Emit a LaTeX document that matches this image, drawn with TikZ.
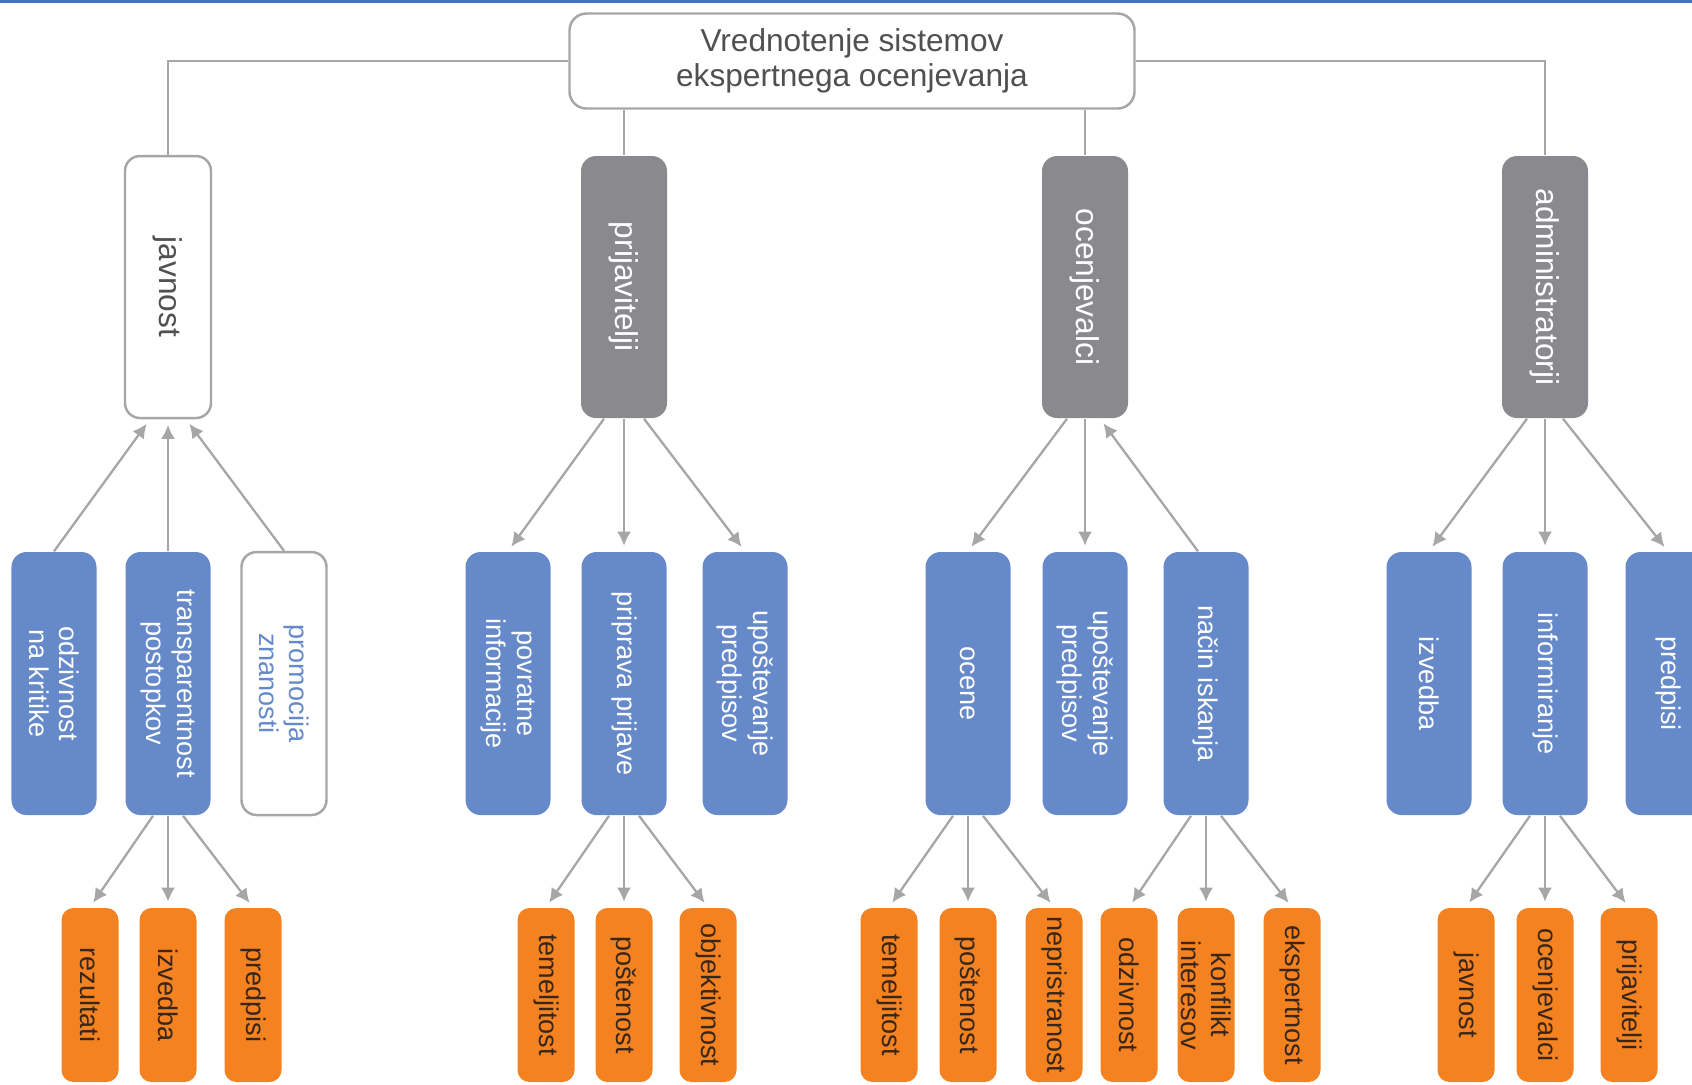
\documentclass[tikz,border=0pt]{standalone}
\usepackage{fontspec}
\setmainfont{Liberation Sans}
\usepackage{tikz}
\usetikzlibrary{
  arrows.meta,
  calc
}
\definecolor{grpgray}{RGB}{138,138,142}
\definecolor{subblue}{RGB}{101,137,201}
\definecolor{leaforange}{RGB}{245,130,32}
\definecolor{leaftext}{RGB}{55,38,25}
\definecolor{linegray}{RGB}{166,166,166}
\definecolor{txtgray}{RGB}{80,80,80}
\definecolor{topblue}{RGB}{68,114,196}

\begin{document}
\begin{tikzpicture}[
    rt/.style={draw=linegray, line width=0.7pt, rounded corners=0.17cm, fill=white, text=txtgray,
      align=center, font=\fontsize{9}{9.8}\selectfont, minimum width=5.65cm, minimum height=0.95cm, inner sep=0pt},
    grp/.style={fill=grpgray, text=white, rounded corners=0.15cm, rotate=-90, align=center,
      minimum width=2.62cm, minimum height=0.86cm, font=\fontsize{9}{9.8}\selectfont, inner sep=0pt},
    grpw/.style={grp, fill=white, draw=linegray, line width=0.7pt, text=txtgray},
    sub/.style={fill=subblue, text=white, rounded corners=0.15cm, rotate=-90, align=center,
      minimum width=2.63cm, minimum height=0.85cm, font=\fontsize{7.7}{8.6}\selectfont, inner sep=0pt},
    subw/.style={sub, fill=white, draw=linegray, line width=0.7pt, text=subblue},
    leaf/.style={fill=leaforange, text=leaftext, rounded corners=0.12cm, rotate=-90, align=center,
      minimum width=1.74cm, minimum height=0.57cm, font=\fontsize{7.7}{8.4}\selectfont, inner sep=0pt},
    ln/.style={draw=linegray, line width=0.65pt},
    arr/.style={ln, -{Latex[length=4pt,width=4pt]}, shorten >=1.6pt}
  ]
    \useasboundingbox (0,0) rectangle (16.92,-10.84);
    \clip (0,0) rectangle (16.92,-10.84);
    \fill[topblue] (0,0) rectangle (16.92,-0.03);

    \node[rt] (root) at (8.52,-0.61) {Vrednotenje sistemov\\ekspertnega ocenjevanja};

    % first level
    \node[grpw] (jav) at (1.68,-2.87) {javnost};
    \node[grp] (prj) at (6.24,-2.87) {prijavitelji};
    \node[grp] (ocv) at (10.85,-2.87) {ocenjevalci};
    \node[grp] (adm) at (15.45,-2.87) {administratorji};
    \draw[ln] (root.west) -| (jav.west);
    \draw[ln] (root.east) -| (adm.west);
    \draw[ln] (root.south -| prj.west) -- (prj.west);
    \draw[ln] (root.south -| ocv.west) -- (ocv.west);

    % second level
    \node[sub] (odz) at (0.54,-6.835) {odzivnost\\na kritike};
    \node[sub] (tra) at (1.68,-6.835) {transparentnost\\postopkov};
    \node[subw] (pro) at (2.84,-6.835) {promocija\\znanosti};
    \node[sub] (pov) at (5.08,-6.835) {povratne\\informacije};
    \node[sub] (ppr) at (6.24,-6.835) {priprava prijave};
    \node[sub] (upa) at (7.45,-6.835) {upoštevanje\\predpisov};
    \node[sub] (oce) at (9.68,-6.835) {ocene};
    \node[sub] (upb) at (10.85,-6.835) {upoštevanje\\predpisov};
    \node[sub] (nac) at (12.06,-6.835) {način iskanja};
    \node[sub] (izv) at (14.29,-6.835) {izvedba};
    \node[sub] (inf) at (15.45,-6.835) {informiranje};
    \node[sub] (pre) at (16.68,-6.835) {predpisi};

    \draw[arr] (odz.west) -- ($(jav.east)+(-0.18,0)$);
    \draw[arr] (tra.west) -- (jav.east);
    \draw[arr] (pro.west) -- ($(jav.east)+(0.18,0)$);
    \draw[arr] ($(prj.east)+(-0.2,0)$) -- (pov.west);
    \draw[arr] (prj.east) -- (ppr.west);
    \draw[arr] ($(prj.east)+(0.2,0)$) -- (upa.west);
    \draw[arr] ($(ocv.east)+(-0.18,0)$) -- (oce.west);
    \draw[arr] (ocv.east) -- (upb.west);
    \draw[arr] ($(nac.west)+(-0.08,0)$) -- ($(ocv.east)+(0.15,0)$);
    \draw[arr] ($(adm.east)+(-0.18,0)$) -- (izv.west);
    \draw[arr] (adm.east) -- (inf.west);
    \draw[arr] ($(adm.east)+(0.18,0)$) -- (pre.west);

    % third level
    \node[leaf] (rez) at (0.90,-9.95) {rezultati};
    \node[leaf] (izva) at (1.68,-9.95) {izvedba};
    \node[leaf] (prea) at (2.53,-9.95) {predpisi};
    \node[leaf] (tema) at (5.46,-9.95) {temeljitost};
    \node[leaf] (posa) at (6.24,-9.95) {poštenost};
    \node[leaf] (obj) at (7.08,-9.95) {objektivnost};
    \node[leaf] (temb) at (8.89,-9.95) {temeljitost};
    \node[leaf] (posb) at (9.68,-9.95) {poštenost};
    \node[leaf] (nep) at (10.54,-9.95) {nepristranost};
    \node[leaf] (odzb) at (11.29,-9.95) {odzivnost};
    \node[leaf] (kon) at (12.06,-9.95) {konflikt\\interesov};
    \node[leaf] (eks) at (12.92,-9.95) {ekspertnost};
    \node[leaf] (javb) at (14.66,-9.95) {javnost};
    \node[leaf] (ocvb) at (15.45,-9.95) {ocenjevalci};
    \node[leaf] (prjb) at (16.29,-9.95) {prijavitelji};

    \draw[arr] ($(tra.east)+(-0.15,0)$) -- (rez.west);
    \draw[arr] (tra.east) -- (izva.west);
    \draw[arr] ($(tra.east)+(0.15,0)$) -- (prea.west);
    \draw[arr] ($(ppr.east)+(-0.15,0)$) -- (tema.west);
    \draw[arr] (ppr.east) -- (posa.west);
    \draw[arr] ($(ppr.east)+(0.15,0)$) -- (obj.west);
    \draw[arr] ($(oce.east)+(-0.15,0)$) -- (temb.west);
    \draw[arr] (oce.east) -- (posb.west);
    \draw[arr] ($(oce.east)+(0.15,0)$) -- (nep.west);
    \draw[arr] ($(nac.east)+(-0.15,0)$) -- (odzb.west);
    \draw[arr] (nac.east) -- (kon.west);
    \draw[arr] ($(nac.east)+(0.15,0)$) -- (eks.west);
    \draw[arr] ($(inf.east)+(-0.15,0)$) -- (javb.west);
    \draw[arr] (inf.east) -- (ocvb.west);
    \draw[arr] ($(inf.east)+(0.15,0)$) -- (prjb.west);
\end{tikzpicture}
\end{document}
